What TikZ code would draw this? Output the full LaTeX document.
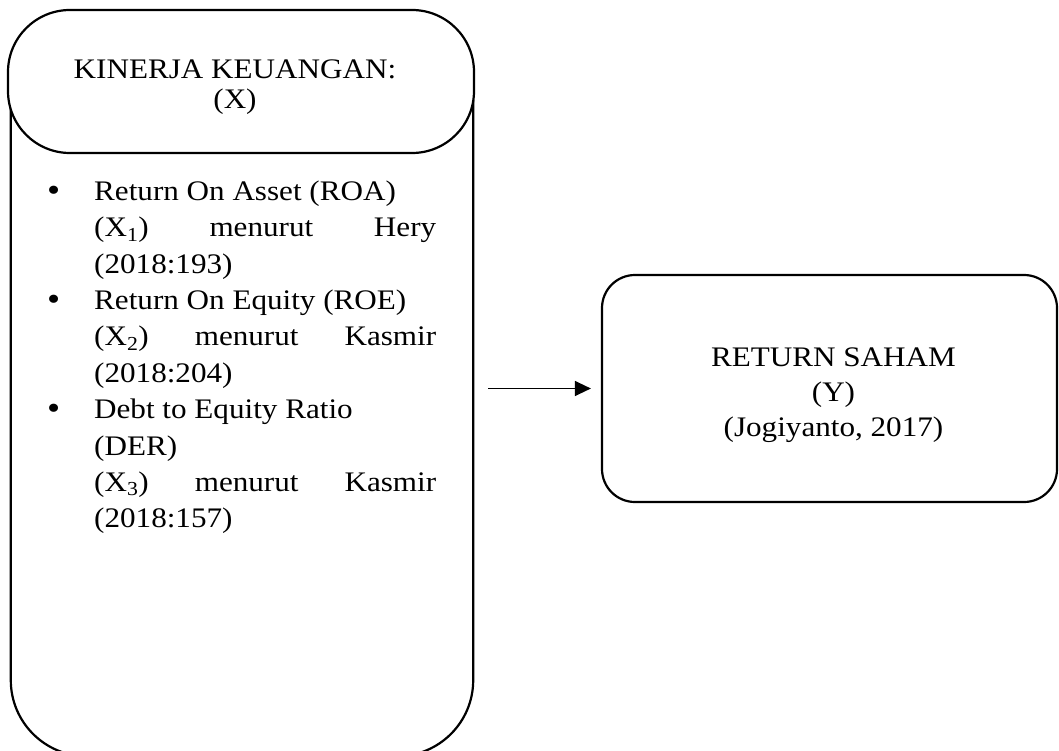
\documentclass[tikz,border=0pt]{standalone}
\usepackage{fontspec}
\setmainfont{Liberation Serif}[FakeStretch=1.1]
\usetikzlibrary{arrows.meta}
\newcommand\lbul{\makebox[47pt][l]{\raisebox{-1pt}{\fontsize{34}{34}\selectfont •}}}
\newcommand\lind{\hspace*{47pt}}
\newcommand\jline[1]{\makebox[342pt][s]{#1}}
\begin{document}
\begin{tikzpicture}[x=1pt,y=-1pt,
  shapeline/.style={draw=black,line width=2.2pt},
  bigtext/.style={inner sep=0pt},
  arr/.style={line width=1.3pt,-{Triangle[length=16pt,width=15pt]}}]
\useasboundingbox (0,0) rectangle (1059,751);
\clip (0,0) rectangle (1059,751);
% body of the left shape
\node[minimum width=462pt, minimum height=656pt, inner sep=0pt] (body) at (242,428) {};
\draw[shapeline, rounded corners=76pt] (body.north west) -- (body.south west) -- (body.south east) -- (body.north east);
% cap of the left shape
\node[shapeline, fill=white, rounded corners=62pt, minimum width=466pt, minimum height=143pt,
      bigtext, align=center, font=\fontsize{28.3}{30}\selectfont] (cap) at (241,81.5)
  {\rule{0pt}{31pt}KINERJA KEUANGAN:\kern12pt\\(X)\kern12pt};
% list
\node[bigtext, align=left, anchor=north west, font=\fontsize{28.3}{36.4}\selectfont] (list) at (47,170)
  {\lbul\rule{0pt}{30pt}Return On Asset (ROA)\\
   \lind\jline{(X\textsubscript{1}) menurut Hery}\\
   \lind(2018:193)\\
   \lbul Return On Equity (ROE)\\
   \lind\jline{(X\textsubscript{2}) menurut Kasmir}\\
   \lind(2018:204)\\
   \lbul Debt to Equity Ratio\\
   \lind(DER)\\
   \lind\jline{(X\textsubscript{3}) menurut Kasmir}\\
   \lind(2018:157)};
% right box
\node[shapeline, rounded corners=33pt, minimum width=455pt, minimum height=227pt,
      bigtext, align=center, font=\fontsize{28.3}{35}\selectfont] (ret) at (829.5,388.5)
  {\hspace*{8pt}\rule{0pt}{33pt}RETURN SAHAM\\\hspace*{8pt}(Y)\\\hspace*{8pt}(Jogiyanto, 2017)};
% arrow
\coordinate (a0) at (488,388.5);
\draw[arr] (a0) -- ([xshift=-10pt]ret.west);
\end{tikzpicture}
\end{document}
